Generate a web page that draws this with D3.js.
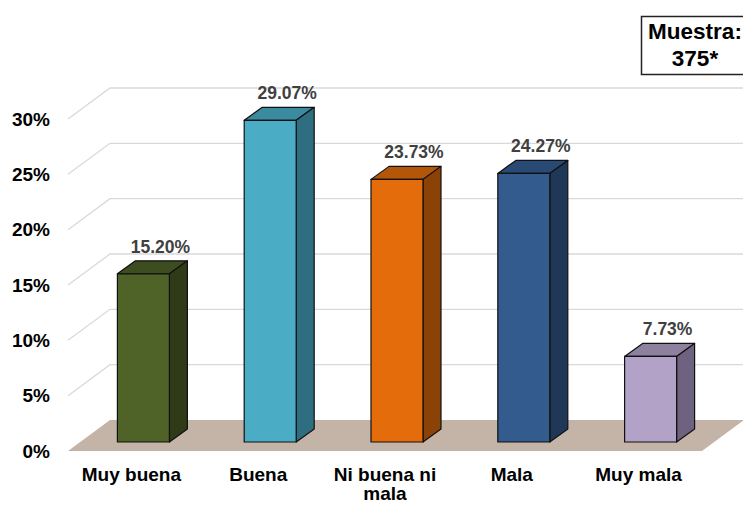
<!DOCTYPE html>
<html>
<head>
  <title>D3</title>
  <meta charset='utf-8'>
  <style>
    body { margin: 0; background: #fff; }
    text { font-family: "Liberation Sans", Arial, sans-serif; font-weight: bold; }
  </style>
</head>
<body>
  <div id="chart"></div>
  <script src="https://d3js.org/d3.v7.min.js"></script>
  <script type="text/javascript">
    var categories = ["Muy buena", "Buena", "Ni buena ni mala", "Mala", "Muy mala"];
    var values = [15.20, 29.07, 23.73, 24.27, 7.73];
    var ticks = [0, 5, 10, 15, 20, 25, 30];
    var frontColors = ["#4f6228", "#4bacc6", "#e46c0a", "#335b8e", "#b3a2c7"];
    var topColors   = ["#3e4d1f", "#3a8aa0", "#b45608", "#284a74", "#8e819f"];
    var sideColors  = ["#2f3a17", "#2e6e80", "#8a4206", "#1f3858", "#6d6380"];

    var width = 743, height = 505;

    // front plane of the floor and full depth of the 3d box
    var floorLeft = 68, floorRight = 702, floorY = 451;
    var DX = 42, DY = 31;        // depth of floor / walls
    var dx = 18, dy = 13;        // depth of a bar
    var offX = (DX - dx) / 2, offY = (DY - dy) / 2;
    var barW = 52;

    var svg = d3.select("#chart").append("svg")
        .attr("width", width)
        .attr("height", height);

    var x = d3.scaleBand().domain(categories).range([floorLeft, floorRight]);
    var h = d3.scaleLinear().domain([0, 30]).range([0, 332]);

    // walls gridlines
    var grid = svg.append("g");
    ticks.filter(function(t) { return t > 0; }).forEach(function(t) {
      var yf = floorY - h(t), yb = floorY - DY - h(t);
      grid.append("polyline")
          .attr("points", [[floorLeft, yf], [floorLeft + DX, yb], [width + 5, yb]].join(" "))
          .attr("fill", "none")
          .attr("stroke", "#d9d9d9")
          .attr("stroke-width", 1.3);
    });

    // floor
    svg.append("polygon")
        .attr("points", [[floorLeft, floorY], [floorRight, floorY],
                         [floorRight + DX, floorY - DY], [floorLeft + DX, floorY - DY]].join(" "))
        .attr("fill", "#c4b4a7");

    // bars
    var bars = svg.selectAll(".bar")
        .data(values)
        .enter().append("g")
        .attr("class", "bar");

    function geom(d, i) {
      var cx = x(categories[i]) + x.bandwidth() / 2 + offX;
      var x0 = cx - barW / 2, x1 = cx + barW / 2;
      var yb = floorY - offY, yt = yb - h(d);
      return {x0: x0, x1: x1, yb: yb, yt: yt, cx: cx};
    }

    bars.append("polygon")
        .attr("points", function(d, i) {
          var g = geom(d, i);
          return [[g.x0, g.yt], [g.x1, g.yt], [g.x1 + dx, g.yt - dy], [g.x0 + dx, g.yt - dy]].join(" ");
        })
        .attr("fill", function(d, i) { return topColors[i]; });

    bars.append("polygon")
        .attr("points", function(d, i) {
          var g = geom(d, i);
          return [[g.x1, g.yt], [g.x1 + dx, g.yt - dy], [g.x1 + dx, g.yb - dy], [g.x1, g.yb]].join(" ");
        })
        .attr("fill", function(d, i) { return sideColors[i]; });

    bars.append("rect")
        .attr("x", function(d, i) { return geom(d, i).x0; })
        .attr("y", function(d, i) { return geom(d, i).yt; })
        .attr("width", barW)
        .attr("height", function(d) { return h(d); })
        .attr("fill", function(d, i) { return frontColors[i]; });

    bars.selectAll("rect, polygon")
        .attr("stroke", "#111")
        .attr("stroke-width", 1.2)
        .attr("stroke-linejoin", "round");

    // value labels
    bars.append("text")
        .attr("x", function(d, i) { return geom(d, i).cx + 17; })
        .attr("y", function(d, i) { return geom(d, i).yt - dy - 8; })
        .attr("text-anchor", "middle")
        .attr("font-size", "17.5px")
        .attr("fill", "#404040")
        .text(function(d) { return d.toFixed(2) + "%"; });

    // y tick labels
    svg.selectAll(".tick")
        .data(ticks)
        .enter().append("text")
        .attr("class", "tick")
        .attr("x", 50)
        .attr("y", function(t) { return floorY - h(t); })
        .attr("dy", "0.35em")
        .attr("text-anchor", "end")
        .attr("font-size", "19px")
        .attr("fill", "#000")
        .text(function(t) { return t + "%"; });

    // category labels
    var catLines = [["Muy buena"], ["Buena"], ["Ni buena ni", "mala"], ["Mala"], ["Muy mala"]];
    var cat = svg.selectAll(".cat")
        .data(categories)
        .enter().append("text")
        .attr("class", "cat")
        .attr("text-anchor", "middle")
        .attr("font-size", "19px")
        .attr("fill", "#000");
    cat.each(function(c, i) {
      var t = d3.select(this);
      catLines[i].forEach(function(line, j) {
        t.append("tspan")
            .attr("x", x(c) + x.bandwidth() / 2)
            .attr("y", 481 + j * 19)
            .text(line);
      });
    });

    // sample box
    svg.append("rect")
        .attr("x", 641.5)
        .attr("y", 16.5)
        .attr("width", 110)
        .attr("height", 58)
        .attr("fill", "#fff")
        .attr("stroke", "#222")
        .attr("stroke-width", 1.5);
    svg.append("text")
        .attr("x", 695).attr("y", 39)
        .attr("text-anchor", "middle")
        .attr("font-size", "22.5px")
        .text("Muestra:");
    svg.append("text")
        .attr("x", 695).attr("y", 66)
        .attr("text-anchor", "middle")
        .attr("font-size", "22.5px")
        .text("375*");
  </script>
</body>
</html>
